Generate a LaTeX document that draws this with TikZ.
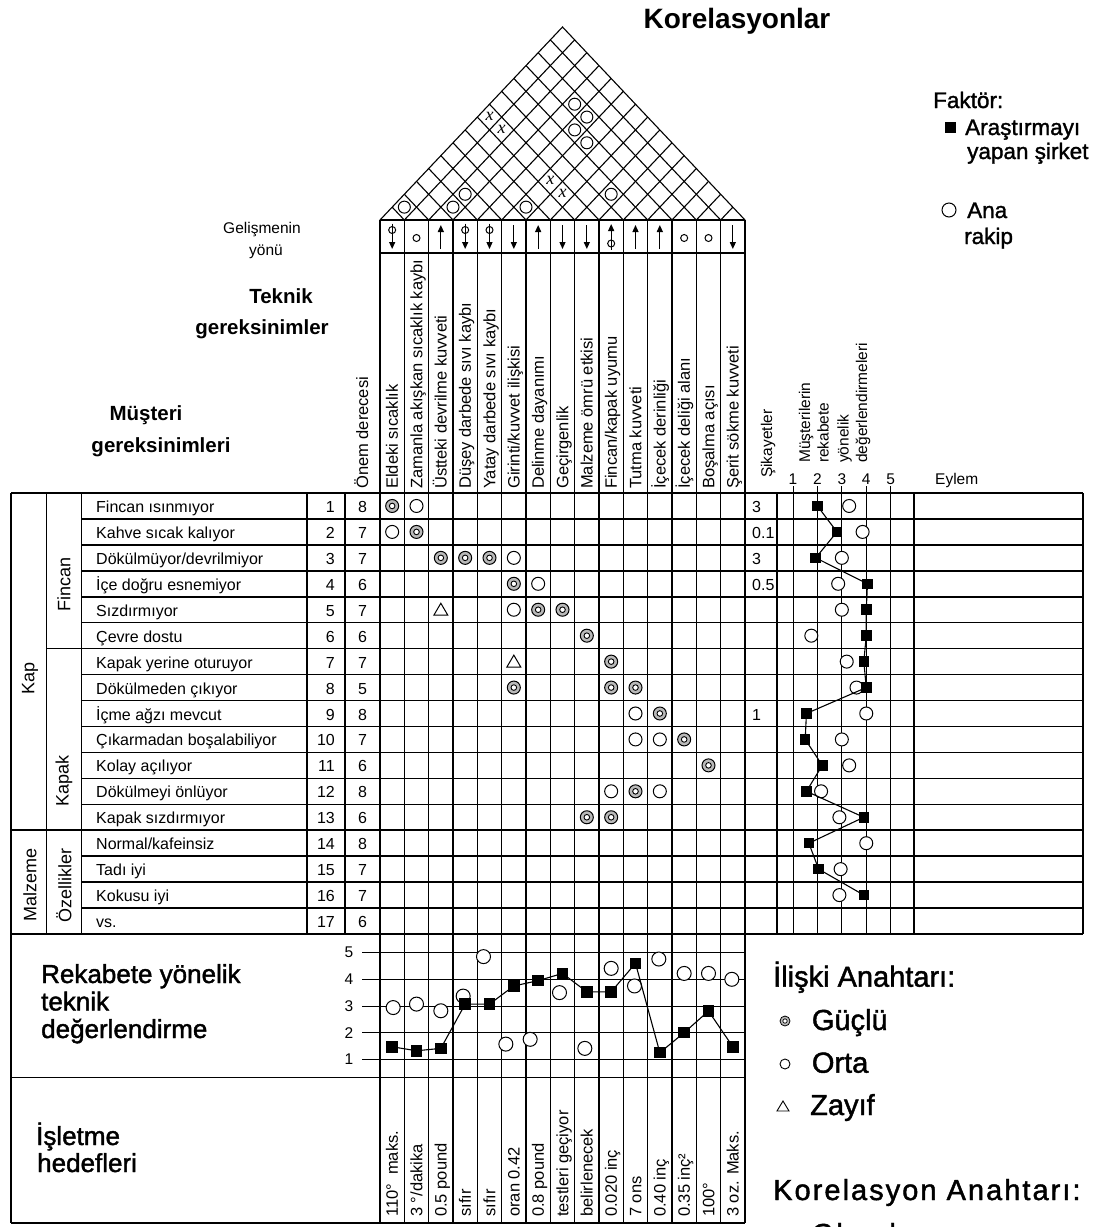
\documentclass[tikz,border=0pt]{standalone}
\usepackage{fontspec}
\setmainfont{Liberation Sans}
\newfontfamily\hqmed[FakeBold=1.5]{Liberation Sans}
\newfontfamily\hqmedsp[FakeBold=1.5,LetterSpace=7]{Liberation Sans}
\newfontfamily\hqserif{Liberation Serif}
\usetikzlibrary{arrows.meta}
\begin{document}
\begin{tikzpicture}[x=1pt,y=-1pt,
  grid/.style={line width=1.5pt},
  rline/.style={line width=0.9pt},
  rowtxt/.style={font=\fontsize{16}{18}\selectfont, inner sep=0pt},
  coltxt/.style={font=\fontsize{16.5}{18}\selectfont, inner sep=0pt},
  smtxt/.style={font=\fontsize{15.5}{17}\selectfont, inner sep=0pt},
  title/.style={font=\bfseries\fontsize{20.5}{22}\selectfont, inner sep=0pt},
  medtxt/.style={font=\hqmed\fontsize{26}{28}\selectfont, inner sep=0pt},
  legtxt/.style={font=\hqmed\fontsize{22.5}{25}\selectfont, inner sep=0pt},
  keytxt/.style={font=\hqmed\fontsize{29}{31}\selectfont, inner sep=0pt},
  keytxtsp/.style={font=\hqmedsp\fontsize{29}{31}\selectfont, inner sep=0pt},
  sqm/.style={rectangle, fill=black, inner sep=0pt, minimum size=10.5pt},
  cim/.style={circle, draw, line width=1pt, fill=white, inner sep=0pt, minimum size=13pt},
  arr/.style={line width=1.2pt, -{Triangle[width=6pt,length=7pt]}},
  strongm/.pic={\draw[line width=1pt, fill=gray!55] (0,0) circle[radius=6.5];
                \draw[line width=0.9pt, fill=white] (0,0) circle[radius=2.8];},
  medm/.pic={\draw[line width=1pt] (0,0) circle[radius=6.5];},
  weakm/.pic={\draw[line width=1pt, line join=miter] (-7,5.5) -- (7,5.5) -- (0,-6.5) -- cycle;}
]
\useasboundingbox (0,0) rectangle (1093,1227);
\fill[white] (0,0) rectangle (1093,1227);

% ---------------- roof ----------------
\draw[line width=1.1pt] (380,220) -- (562.5,27) -- (745,220);
\foreach \p in {1,...,14} {
  \pgfmathsetmacro\bx{380+\p*24.333}
  \pgfmathsetmacro\rx{(\bx+745)/2}
  \pgfmathsetmacro\ry{220-(745-\bx)/2*1.05753}
  \pgfmathsetmacro\lx{(380+\bx)/2}
  \pgfmathsetmacro\ly{220-(\bx-380)/2*1.05753}
  \draw[line width=1.1pt] (\lx,\ly) -- (\bx,220) -- (\rx,\ry);
}
\foreach \i/\j in {1/2,3/4,3/5,6/7,9/11,4/13,5/13,5/12,6/12} {
  \pgfmathsetmacro\cx{380+(\i+\j-1)*24.333/2}
  \pgfmathsetmacro\cy{220-(\j-\i)*24.333/2*1.05753}
  \draw[line width=1pt] (\cx,\cy) circle[radius=6];
}
\foreach \i/\j in {6/9,7/9,1/9,2/9} {
  \pgfmathsetmacro\cx{380+(\i+\j-1)*24.333/2}
  \pgfmathsetmacro\cy{220-(\j-\i)*24.333/2*1.05753}
  \node[font=\hqserif\itshape\fontsize{18}{18}\selectfont, inner sep=0pt] (corx\i-\j) at (\cx,\cy-1) {x};
}

% ---------------- grid lines ----------------
\foreach \p in {0,...,15} {
  \pgfmathsetmacro\xx{380+\p*24.333}
  \draw[grid] (\xx,220) -- (\xx,1223);
}
\draw[grid] (380,220) -- (745,220);
\draw[grid] (380,253) -- (745,253);
\draw[grid] (11,493) -- (1083,493);
\foreach \r in {1,...,16} {
  \pgfmathsetmacro\yy{493+\r*25.94}
  \pgfmathsetmacro\xs{ifthenelse(\r==13,11,ifthenelse(\r==6,46.7,81.7))}
  \draw[grid] (\xs,\yy) -- (1083,\yy);
}
\draw[grid] (11,934) -- (1083,934);
\draw[grid] (11,1077.5) -- (745,1077.5);
\draw[grid] (11,1223) -- (745,1223);
\draw[grid] (11,493) -- (11,1223);
\foreach \xx in {46.7,81.7,307,345,777,914,1083} {
  \draw[grid] (\xx,493) -- (\xx,934);
}
\foreach \k in {1,...,5} {
  \pgfmathsetmacro\xx{793+(\k-1)*24.42}
  \draw[rline] (\xx,486) -- (\xx,934);
  \node[smtxt, anchor=base] (rh\k) at (\xx,484) {\k};
}
\node[smtxt, anchor=base west] (eylem) at (935,484) {Eylem};

% technical assessment scale lines
\foreach \v in {1,...,5} {
  \pgfmathsetmacro\yy{1059.3-(\v-1)*26.67}
  \draw[rline] (362,\yy) -- (745,\yy);
  \node[smtxt, anchor=center] (ts\v) at (349,\yy) {\v};
}

% ---------------- direction of improvement ----------------
\foreach \k in {6,8,9,15} {
  \pgfmathsetmacro\cx{380+(\k-0.5)*24.333}
  \draw[arr] (\cx,225) -- (\cx,249);
}
\foreach \k in {3,7,11,12} {
  \pgfmathsetmacro\cx{380+(\k-0.5)*24.333}
  \draw[arr] (\cx,249) -- (\cx,225);
}
\foreach \k in {2,13,14} {
  \pgfmathsetmacro\cx{380+(\k-0.5)*24.333}
  \draw[line width=1pt] (\cx,238) circle[radius=3.5];
}
\foreach \k in {1,4,5} {
  \pgfmathsetmacro\cx{380+(\k-0.5)*24.333}
  \draw[arr] (\cx,223.5) -- (\cx,249);
  \draw[line width=1pt] (\cx,230) circle[radius=3.5];
}
\foreach \k in {10} {
  \pgfmathsetmacro\cx{380+(\k-0.5)*24.333}
  \draw[arr] (\cx,249.5) -- (\cx,224);
  \draw[line width=1pt] (\cx,243.5) circle[radius=3.5];
}

% ---------------- column headers ----------------
\foreach \k/\txt in {1/{Eldeki sıcaklık}, 2/{Zamanla akışkan sıcaklık kaybı},
  3/{Üstteki devrilme kuvveti}, 4/{Düşey darbede sıvı kaybı},
  5/{Yatay darbede sıvı kaybı}, 6/{Girinti/kuvvet ilişkisi},
  7/{Delinme dayanımı}, 8/{Geçirgenlik}, 9/{Malzeme ömrü etkisi},
  10/{Fincan/kapak uyumu}, 11/{Tutma kuvveti}, 12/{İçecek derinliği},
  13/{İçecek deliği alanı}, 14/{Boşalma açısı}, 15/{Şerit sökme kuvveti}} {
  \pgfmathsetmacro\cx{380+(\k-0.5)*24.333+5.8}
  \node[coltxt, rotate=90, anchor=base west] (th\k) at (\cx,489) {\txt};
}
\node[coltxt, rotate=90, anchor=base west] (onem) at (368,489) {Önem derecesi};
\node[smtxt, rotate=90, anchor=base west] (sikh) at (772,478) {Şikayetler};
\node[smtxt, rotate=90, anchor=base west] (mr1) at (810,463) {Müşterilerin};
\node[smtxt, rotate=90, anchor=base west] (mr2) at (828.5,463) {rekabete};
\node[smtxt, rotate=90, anchor=base west] (mr3) at (848.5,463) {yönelik};
\node[smtxt, rotate=90, anchor=base west] (mr4) at (867,463) {değerlendirmeleri};

% ---------------- titles ----------------
\node[font=\bfseries\fontsize{28}{30}\selectfont, inner sep=0pt, anchor=base] (kor) at (737,28) {Korelasyonlar};
\node[smtxt, anchor=base] (gel1) at (262,233.5) {Gelişmenin};
\node[smtxt, anchor=base] (gel2) at (266,255.5) {yönü};
\node[title, anchor=base] (tek1) at (281,303) {Teknik};
\node[title, anchor=base] (tek2) at (262,334) {gereksinimler};
\node[title, anchor=base] (mus1) at (146,420) {Müşteri};
\node[title, anchor=base] (mus2) at (161,452) {gereksinimleri};

% ---------------- group labels ----------------
\node[font=\fontsize{18}{20}\selectfont, rotate=90, inner sep=0pt] (gkap) at (30,678) {Kap};
\node[font=\fontsize{18}{20}\selectfont, rotate=90, inner sep=0pt] (gfin) at (64,584) {Fincan};
\node[font=\fontsize{18}{20}\selectfont, rotate=90, inner sep=0pt] (gkpk) at (64,781) {Kapak};
\node[font=\fontsize{18}{20}\selectfont, rotate=90, inner sep=0pt] (gmal) at (30,885) {Malzeme};
\node[font=\fontsize{18}{20}\selectfont, rotate=90, inner sep=0pt] (goz) at (64,885) {Özellikler};

% ---------------- rows ----------------
\foreach \r/\txt/\imp in {1/{Fincan ısınmıyor}/8, 2/{Kahve sıcak kalıyor}/7,
  3/{Dökülmüyor/devrilmiyor}/7, 4/{İçe doğru esnemiyor}/6, 5/{Sızdırmıyor}/7,
  6/{Çevre dostu}/6, 7/{Kapak yerine oturuyor}/7, 8/{Dökülmeden çıkıyor}/5,
  9/{İçme ağzı mevcut}/8, 10/{Çıkarmadan boşalabiliyor}/7, 11/{Kolay açılıyor}/6,
  12/{Dökülmeyi önlüyor}/8, 13/{Kapak sızdırmıyor}/6, 14/{Normal/kafeinsiz}/8,
  15/{Tadı iyi}/7, 16/{Kokusu iyi}/7, 17/{vs.}/6} {
  \pgfmathsetmacro\yb{493+(\r-0.5)*25.94+6.5}
  \node[rowtxt, anchor=base west] (req\r) at (96,\yb) {\txt};
  \node[rowtxt, anchor=base east] (num\r) at (335,\yb) {\r};
  \node[rowtxt, anchor=base] (imp\r) at (362.5,\yb) {\imp};
}
\foreach \r/\txt in {1/3, 2/0.1, 3/3, 4/0.5, 9/1} {
  \pgfmathsetmacro\yb{493+(\r-0.5)*25.94+6.5}
  \node[rowtxt, anchor=base west] (sik\r) at (752,\yb) {\txt};
}

% ---------------- relationship matrix ----------------
\foreach \r/\k in {1/1,2/2,3/3,3/4,3/5,4/6,5/7,5/8,6/9,7/10,8/6,8/10,8/11,9/12,10/13,11/14,12/11,13/9,13/10} {
  \pgfmathsetmacro\cx{380+(\k-0.5)*24.333}
  \pgfmathsetmacro\cy{493+(\r-0.5)*25.94}
  \pic at (\cx,\cy) {strongm};
}
\foreach \r/\k in {1/2,2/1,3/6,4/7,5/6,9/11,10/11,10/12,12/10,12/12} {
  \pgfmathsetmacro\cx{380+(\k-0.5)*24.333}
  \pgfmathsetmacro\cy{493+(\r-0.5)*25.94}
  \pic at (\cx,\cy) {medm};
}
\foreach \r/\k in {5/3,7/6} {
  \pgfmathsetmacro\cx{380+(\k-0.5)*24.333}
  \pgfmathsetmacro\cy{493+(\r-0.5)*25.94}
  \pic at (\cx,\cy) {weakm};
}

% ---------------- customer competitive assessment ----------------
\foreach \r/\v in {1/2.0,2/2.8,3/1.93,4/4.05,5/4.0,6/4.0,7/3.9,8/4.0,9/1.55,10/1.5,11/2.2,12/1.55,13/3.9,14/1.65,15/2.05,16/3.9} {
  \pgfmathsetmacro\xx{793+(\v-1)*24.42}
  \pgfmathsetmacro\yy{493+(\r-0.5)*25.94}
  \coordinate (cs\r) at (\xx,\yy);
}
\foreach \r/\v in {1/3.3,2/3.85,3/3.0,4/2.85,5/3.0,6/1.75,7/3.2,8/3.6,9/4.0,10/3.0,11/3.3,12/2.15,13/2.9,14/4.0,15/2.95,16/2.9} {
  \pgfmathsetmacro\xx{793+(\v-1)*24.42}
  \pgfmathsetmacro\yy{493+(\r-0.5)*25.94}
  \node[cim] (cc\r) at (\xx,\yy) {};
}
\draw[line width=1.1pt] (cs1) \foreach \r in {2,...,16} { -- (cs\r) };
\foreach \r in {1,...,16} { \node[sqm] (csq\r) at (cs\r) {}; }

% ---------------- technical competitive assessment ----------------
\foreach \k/\v in {1/1.47,2/1.32,3/1.41,4/3.07,5/3.07,6/3.75,7/3.95,8/4.22,9/3.53,10/3.53,11/4.6,12/1.25,13/2.0,14/2.81,15/1.47} {
  \pgfmathsetmacro\xx{380+(\k-0.5)*24.333}
  \pgfmathsetmacro\yy{1059.3-(\v-1)*26.67}
  \coordinate (ts\k) at (\xx,\yy);
}
\foreach \k/\v/\dx in {1/2.94/1,2/3.07/0,3/2.82/0,4/3.37/-2,5/4.85/-6,6/1.57/-8,7/1.75/-8,8/3.5/-3,9/1.41/-2,10/4.41/0,11/3.75/-1,12/4.76/-1,13/4.22/0,14/4.22/0,15/4.0/-1} {
  \pgfmathsetmacro\xx{380+(\k-0.5)*24.333+\dx}
  \pgfmathsetmacro\yy{1059.3-(\v-1)*26.67}
  \node[cim, minimum size=14pt] (tc\k) at (\xx,\yy) {};
}
\draw[line width=1.1pt] (ts1) \foreach \k in {2,...,15} { -- (ts\k) };
\foreach \k in {1,...,15} { \node[sqm, minimum size=11.5pt] (tsq\k) at (ts\k) {}; }

% ---------------- targets ----------------
\foreach \k/\txt in {1/{110°~~maks.}, 2/{3 °/dakika}, 3/{0.5 pound}, 4/{sıfır}, 5/{sıfır},
  6/{oran 0.42}, 7/{0.8 pound}, 8/{testleri geçiyor}, 9/{belirlenecek}, 10/{0.020 inç},
  11/{7 ons}, 12/{0.40 inç}, 13/{0.35 inç²}, 14/{100°}, 15/{3 oz. Maks.}} {
  \pgfmathsetmacro\cx{380+(\k-0.5)*24.333+5.8}
  \node[coltxt, rotate=90, anchor=base west] (tg\k) at (\cx,1217) {\txt};
}

% ---------------- left section titles ----------------
\node[medtxt, anchor=base west] (rek1) at (41,983) {Rekabete yönelik};
\node[medtxt, anchor=base west] (rek2) at (41,1010.5) {teknik};
\node[medtxt, anchor=base west] (rek3) at (41,1038) {değerlendirme};
\node[medtxt, anchor=base west] (isl1) at (36,1145) {İşletme};
\node[medtxt, anchor=base west] (isl2) at (37,1172) {hedefleri};

% ---------------- legends ----------------
\node[legtxt, anchor=base west] (fak) at (933,108) {Faktör:};
\node[sqm, minimum size=11pt] (faksq) at (950,127) {};
\node[legtxt, anchor=base west] (fak1) at (965,135) {Araştırmayı};
\node[legtxt, anchor=base west] (fak2) at (967,159) {yapan şirket};
\node[cim, minimum size=14pt] (fakci) at (949,210) {};
\node[legtxt, anchor=base west] (fak3) at (967,218) {Ana};
\node[legtxt, anchor=base west] (fak4) at (964,244) {rakip};

\node[keytxt, anchor=base west] (ili) at (773,986.7) {İlişki Anahtarı:};
\draw[line width=0.8pt, fill=gray!55] (785,1021) circle[radius=5];
\draw[line width=0.7pt, fill=white] (785,1021) circle[radius=2.2];
\node[keytxt, anchor=base west] (gu) at (811.7,1030) {Güçlü};
\draw[line width=0.9pt] (785,1064) circle[radius=5];
\node[keytxt, anchor=base west] (or) at (811.7,1072.7) {Orta};
\draw[line width=0.9pt, line join=miter] (777,1111) -- (789,1111) -- (783,1101) -- cycle;
\node[keytxt, anchor=base west] (za) at (810,1115) {Zayıf};
\node[keytxtsp, anchor=base west] (korkey) at (773,1200) {Korelasyon Anahtarı:};
\draw[line width=0.9pt] (785,1236) circle[radius=5];
\node[keytxtsp, anchor=base west] (olu) at (811.7,1244) {Olumlu};
\end{tikzpicture}
\end{document}
